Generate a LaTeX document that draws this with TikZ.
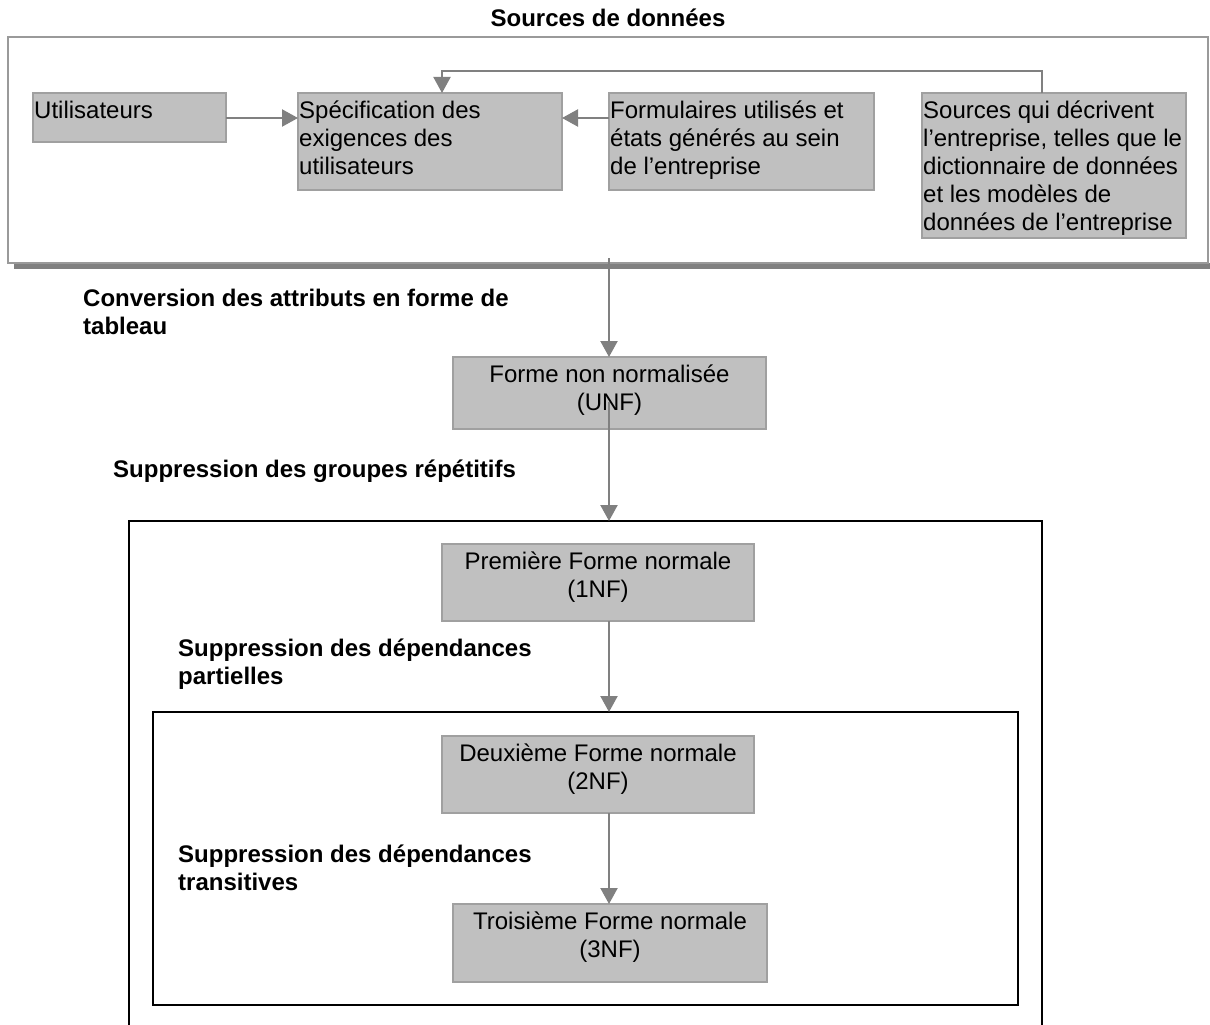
\documentclass[tikz,border=0pt]{standalone}
\usepackage{fontspec}
\setmainfont{Liberation Sans}
\usetikzlibrary{arrows.meta}
\definecolor{boxfill}{HTML}{C0C0C0}
\definecolor{boxline}{HTML}{A0A0A0}
\definecolor{arrowgray}{HTML}{808080}
\definecolor{frameline}{HTML}{9A9A9A}
\newcommand{\bodyfont}{\fontsize{24}{28}\selectfont}
\newcommand{\lefttext}[1]{\parbox[t]{700pt}{\raggedright #1}}
\newcommand{\midtext}[1]{\parbox[t]{400pt}{\centering #1}}
\tikzset{
  box/.style={draw=boxline, fill=boxfill, line width=1.6pt, inner sep=0pt, outer sep=0pt, anchor=north west},
  boxtext/.style={inner sep=0pt, font=\bodyfont},
  flow/.style={draw=arrowgray, line width=2.2pt, -{Triangle[length=16pt,width=17pt]}},
  lbl/.style={inner sep=0pt, anchor=base west, font=\bfseries\bodyfont},
  frame/.style={draw=black, line width=1.8pt}
}
\begin{document}
\begin{tikzpicture}[x=1pt, y=-1pt]
\useasboundingbox (0,0) rectangle (1210,1025);

% title
\node[inner sep=0pt, anchor=base, font=\bfseries\bodyfont] (title) at (608,26.5) {Sources de données};

% data sources frame with its shadow
\fill[arrowgray] (14,263) rectangle (1212,269);
\node[draw=frameline, fill=white, line width=1.8pt, inner sep=0pt, outer sep=0pt, anchor=north west,
      minimum width=1200pt, minimum height=226pt] (sources) at (8,37) {};

% source boxes
\node[box, minimum width=193pt, minimum height=49pt] (util) at (33,93) {};
\node[box, minimum width=264pt, minimum height=97pt] (spec) at (298,93) {};
\node[box, minimum width=265pt, minimum height=97pt] (form) at (609,93) {};
\node[box, minimum width=264pt, minimum height=145pt] (src) at (922,93) {};

\node[boxtext, anchor=base west] at ([shift={(1pt,-25pt)}]util.north west) {\lefttext{Utilisateurs}};
\node[boxtext, anchor=base west] at ([shift={(1pt,-25pt)}]spec.north west) {\lefttext{Spécification des\\exigences des\\utilisateurs}};
\node[boxtext, anchor=base west] at ([shift={(1pt,-25pt)}]form.north west) {\lefttext{Formulaires utilisés et\\états générés au sein\\de l’entreprise}};
\node[boxtext, anchor=base west] at ([shift={(1pt,-25pt)}]src.north west) {\lefttext{Sources qui décrivent\\l’entreprise, telles que le\\dictionnaire de données\\et les modèles de\\données de l’entreprise}};

% connectors between the sources
\draw[flow] (util.east |- 0,118) -- (spec.west |- 0,118);
\draw[flow] (form.west |- 0,118) -- (spec.east |- 0,118);
\coordinate (loopR) at (1042,71);
\coordinate (loopL) at (442,71);
\draw[flow, line width=2pt] (src.north -| loopR) -- (loopR) -- (loopL) -- (loopL |- spec.north);

% normalisation steps
\coordinate (srcout) at (609,258);
\node[box, minimum width=313pt, minimum height=72pt] (unf) at (453,357) {};
\node[boxtext, anchor=base] at ([yshift=-25pt]unf.north) {\midtext{Forme non normalisée\\(UNF)}};

\draw[frame] (129,1040) -- (129,521) coordinate (bigTL) -- (1042,521) -- (1042,1040);
\draw[frame] (153,712) rectangle (1018,1005);
\coordinate (innerTop) at (609,712);

\node[box, minimum width=312pt, minimum height=77pt] (nf1) at (442,544) {};
\node[boxtext, anchor=base] at ([yshift=-25pt]nf1.north) {\midtext{Première Forme normale\\(1NF)}};
\node[box, minimum width=312pt, minimum height=77pt] (nf2) at (442,736) {};
\node[boxtext, anchor=base] at ([yshift=-25pt]nf2.north) {\midtext{Deuxième Forme normale\\(2NF)}};
\node[box, minimum width=314pt, minimum height=78pt] (nf3) at (453,904) {};
\node[boxtext, anchor=base] at ([yshift=-25pt]nf3.north) {\midtext{Troisième Forme normale\\(3NF)}};

% step labels
\node[lbl] (l1) at (83,306) {\lefttext{Conversion des attributs en forme de\\tableau}};
\node[lbl] (l2) at (113,477) {Suppression des groupes répétitifs};
\node[lbl] (l3) at (178,656) {\lefttext{Suppression des dépendances\\partielles}};
\node[lbl] (l4) at (178,862) {\lefttext{Suppression des dépendances\\transitives}};

% step connectors
\coordinate (unfmid) at (609,402);
\draw[flow] (srcout) -- (srcout |- unf.north);
\draw[flow] (unfmid) -- (unfmid |- bigTL);
\draw[flow] (nf1.south -| innerTop) -- (innerTop);
\draw[flow] (nf2.south -| innerTop) -- (innerTop |- nf3.north);
\end{tikzpicture}
\end{document}
